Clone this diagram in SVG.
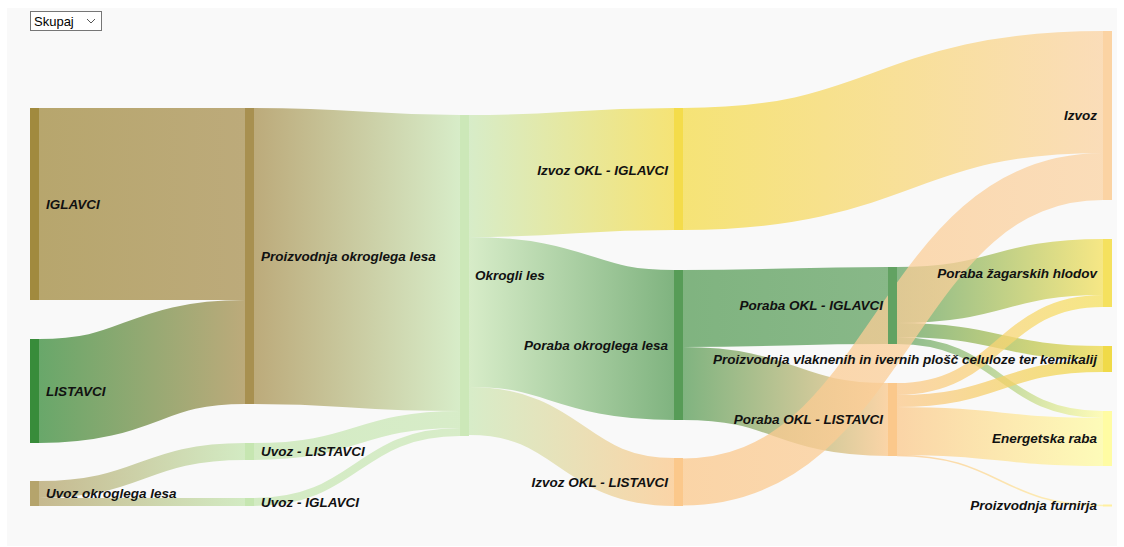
<svg xmlns="http://www.w3.org/2000/svg" width="1124" height="547" viewBox="0 0 1124 547">
<style>
.lnk{fill:none;stroke-opacity:0.75}
.lbl{font-family:"Liberation Sans",Arial,sans-serif;font-size:13.5px;font-weight:bold;font-style:italic;fill:#111}
.end{text-anchor:end}
</style>
<defs>
<linearGradient id="g1" gradientUnits="userSpaceOnUse" x1="39" y1="0" x2="245" y2="0"><stop offset="0" stop-color="#a18a3e"/><stop offset="1" stop-color="#a89050"/></linearGradient>
<linearGradient id="g2" gradientUnits="userSpaceOnUse" x1="39" y1="0" x2="245" y2="0"><stop offset="0" stop-color="#388c3a"/><stop offset="1" stop-color="#a89050"/></linearGradient>
<linearGradient id="g3" gradientUnits="userSpaceOnUse" x1="39" y1="0" x2="245" y2="0"><stop offset="0" stop-color="#b5a46c"/><stop offset="1" stop-color="#c6e6b1"/></linearGradient>
<linearGradient id="g5" gradientUnits="userSpaceOnUse" x1="254" y1="0" x2="460" y2="0"><stop offset="0" stop-color="#a89050"/><stop offset="1" stop-color="#cce8b8"/></linearGradient>
<linearGradient id="g6" gradientUnits="userSpaceOnUse" x1="254" y1="0" x2="460" y2="0"><stop offset="0" stop-color="#c6e6b1"/><stop offset="1" stop-color="#cce8b8"/></linearGradient>
<linearGradient id="g8" gradientUnits="userSpaceOnUse" x1="469" y1="0" x2="674" y2="0"><stop offset="0" stop-color="#cce8b8"/><stop offset="1" stop-color="#f4dc4a"/></linearGradient>
<linearGradient id="g9" gradientUnits="userSpaceOnUse" x1="469" y1="0" x2="674" y2="0"><stop offset="0" stop-color="#cce8b8"/><stop offset="1" stop-color="#579c57"/></linearGradient>
<linearGradient id="g10" gradientUnits="userSpaceOnUse" x1="469" y1="0" x2="674" y2="0"><stop offset="0" stop-color="#cce8b8"/><stop offset="1" stop-color="#fbc88b"/></linearGradient>
<linearGradient id="g11" gradientUnits="userSpaceOnUse" x1="683" y1="0" x2="1103" y2="0"><stop offset="0" stop-color="#f4dc4a"/><stop offset="1" stop-color="#fbd3a3"/></linearGradient>
<linearGradient id="g12" gradientUnits="userSpaceOnUse" x1="683" y1="0" x2="1103" y2="0"><stop offset="0" stop-color="#fbc88b"/><stop offset="1" stop-color="#fbd3a3"/></linearGradient>
<linearGradient id="g13" gradientUnits="userSpaceOnUse" x1="683" y1="0" x2="888" y2="0"><stop offset="0" stop-color="#579c57"/><stop offset="1" stop-color="#62a262"/></linearGradient>
<linearGradient id="g14" gradientUnits="userSpaceOnUse" x1="683" y1="0" x2="888" y2="0"><stop offset="0" stop-color="#579c57"/><stop offset="1" stop-color="#fbc88b"/></linearGradient>
<linearGradient id="g15" gradientUnits="userSpaceOnUse" x1="897" y1="0" x2="1103" y2="0"><stop offset="0" stop-color="#62a262"/><stop offset="1" stop-color="#f5e15e"/></linearGradient>
<linearGradient id="g16" gradientUnits="userSpaceOnUse" x1="897" y1="0" x2="1103" y2="0"><stop offset="0" stop-color="#62a262"/><stop offset="1" stop-color="#f0da48"/></linearGradient>
<linearGradient id="g17" gradientUnits="userSpaceOnUse" x1="897" y1="0" x2="1103" y2="0"><stop offset="0" stop-color="#62a262"/><stop offset="1" stop-color="#fffca3"/></linearGradient>
<linearGradient id="g18" gradientUnits="userSpaceOnUse" x1="897" y1="0" x2="1103" y2="0"><stop offset="0" stop-color="#fbc88b"/><stop offset="1" stop-color="#f5e15e"/></linearGradient>
<linearGradient id="g19" gradientUnits="userSpaceOnUse" x1="897" y1="0" x2="1103" y2="0"><stop offset="0" stop-color="#fbc88b"/><stop offset="1" stop-color="#f0da48"/></linearGradient>
<linearGradient id="g20" gradientUnits="userSpaceOnUse" x1="897" y1="0" x2="1103" y2="0"><stop offset="0" stop-color="#fbc88b"/><stop offset="1" stop-color="#fffca3"/></linearGradient>
<linearGradient id="g21" gradientUnits="userSpaceOnUse" x1="897" y1="0" x2="1103" y2="0"><stop offset="0" stop-color="#fbc88b"/><stop offset="1" stop-color="#fff0a0"/></linearGradient>
</defs>
<rect x="0" y="0" width="1124" height="547" fill="#ffffff"/>
<rect x="7" y="8" width="1110" height="538" fill="#f9f9f9"/>
<g id="select">
<rect x="30.5" y="11.5" width="71" height="19" fill="#ffffff" stroke="#767676"/>
<text x="34" y="26" font-family="Liberation Sans,Arial,sans-serif" font-size="13" fill="#000">Skupaj</text>
<polyline points="87,19 91,23 95,19" fill="none" stroke="#555" stroke-width="1"/>
</g>
<g id="links">
<path class="lnk" stroke="url(#g1)" stroke-width="192" d="M39,204 C142,204 142,204 245,204"/>
<path class="lnk" stroke="url(#g2)" stroke-width="104" d="M39,391 C142,391 142,352 245,352"/>
<path class="lnk" stroke="url(#g3)" stroke-width="17" d="M39,489.5 C142,489.5 142,451.5 245,451.5"/>
<path class="lnk" stroke="url(#g3)" stroke-width="8" d="M39,502 C142,502 142,502 245,502"/>
<path class="lnk" stroke="url(#g5)" stroke-width="296" d="M254,256 C357,256 357,263 460,263"/>
<path class="lnk" stroke="url(#g6)" stroke-width="17" d="M254,451.5 C357,451.5 357,419.5 460,419.5"/>
<path class="lnk" stroke="url(#g6)" stroke-width="8" d="M254,502 C357,502 357,432 460,432"/>
<path class="lnk" stroke="url(#g8)" stroke-width="122" d="M469,176 C571.5,176 571.5,169 674,169"/>
<path class="lnk" stroke="url(#g9)" stroke-width="150" d="M469,312 C571.5,312 571.5,345 674,345"/>
<path class="lnk" stroke="url(#g10)" stroke-width="48" d="M469,411 C571.5,411 571.5,482 674,482"/>
<path class="lnk" stroke="url(#g11)" stroke-width="122" d="M683,169 C893,169 893,92 1103,92"/>
<path class="lnk" stroke="url(#g13)" stroke-width="77" d="M683,308.5 C785.5,308.5 785.5,305.5 888,305.5"/>
<path class="lnk" stroke="url(#g14)" stroke-width="73" d="M683,383.5 C785.5,383.5 785.5,419.5 888,419.5"/>
<path class="lnk" stroke="url(#g15)" stroke-width="56" d="M897,295 C1000,295 1000,267 1103,267"/>
<path class="lnk" stroke="url(#g16)" stroke-width="14" d="M897,330 C1000,330 1000,353 1103,353"/>
<path class="lnk" stroke="url(#g17)" stroke-width="7" d="M897,340.5 C1000,340.5 1000,414.5 1103,414.5"/>
<path class="lnk" stroke="url(#g18)" stroke-width="12" d="M897,389 C1000,389 1000,301 1103,301"/>
<path class="lnk" stroke="url(#g19)" stroke-width="12" d="M897,401 C1000,401 1000,366 1103,366"/>
<path class="lnk" stroke="url(#g20)" stroke-width="48" d="M897,431 C1000,431 1000,442 1103,442"/>
<path class="lnk" stroke="url(#g21)" stroke-width="1.5" d="M897,455.5 C1000,455.5 1000,505.5 1103,505.5"/>
<path class="lnk" stroke="url(#g12)" stroke-width="47" d="M683,482 C893,482 893,176.5 1103,176.5"/>
</g>
<g id="n-iglavci"><rect x="30" y="108" width="9" height="192" fill="#a18a3e"/><text class="lbl" x="46" y="208.5">IGLAVCI</text></g>
<g id="n-listavci"><rect x="30" y="339" width="9" height="104" fill="#388c3a"/><text class="lbl" x="46" y="395.5">LISTAVCI</text></g>
<g id="n-uvoz-okl"><rect x="30" y="481" width="9" height="25" fill="#b5a46c"/><text class="lbl" x="46" y="498">Uvoz okroglega lesa</text></g>
<g id="n-proizvodnja"><rect x="245" y="108" width="9" height="296" fill="#a89050"/><text class="lbl" x="261" y="261">Proizvodnja okroglega lesa</text></g>
<g id="n-uvoz-lis"><rect x="245" y="443" width="9" height="17" fill="#c6e6b1"/><text class="lbl" x="261" y="456">Uvoz - LISTAVCI</text></g>
<g id="n-uvoz-igl"><rect x="245" y="498" width="9" height="8" fill="#c6e6b1"/><text class="lbl" x="261" y="506.5">Uvoz - IGLAVCI</text></g>
<g id="n-okrogli"><rect x="460" y="115" width="9" height="321" fill="#cce8b8"/><text class="lbl" x="475" y="279.5">Okrogli les</text></g>
<g id="n-izvoz-igl"><rect x="674" y="108" width="9" height="122" fill="#f4dc4a"/><text class="lbl end" x="668" y="174.5">Izvoz OKL - IGLAVCI</text></g>
<g id="n-poraba"><rect x="674" y="270" width="9" height="150" fill="#579c57"/><text class="lbl end" x="668" y="350">Poraba okroglega lesa</text></g>
<g id="n-izvoz-lis"><rect x="674" y="458" width="9" height="48" fill="#fbc88b"/><text class="lbl end" x="668" y="487">Izvoz OKL - LISTAVCI</text></g>
<g id="n-poraba-igl"><rect x="888" y="267" width="9" height="77" fill="#62a262"/><text class="lbl end" x="883" y="310">Poraba OKL - IGLAVCI</text></g>
<g id="n-poraba-lis"><rect x="888" y="383" width="9" height="73" fill="#fbc88b"/><text class="lbl end" x="883" y="424">Poraba OKL - LISTAVCI</text></g>
<g id="n-izvoz"><rect x="1103" y="31" width="9" height="169" fill="#fbd3a3"/><text class="lbl end" x="1097" y="120">Izvoz</text></g>
<g id="n-zag"><rect x="1103" y="239" width="9" height="68" fill="#f5e15e"/><text class="lbl end" x="1097" y="277.5">Poraba žagarskih hlodov</text></g>
<g id="n-vlak"><rect x="1103" y="346" width="9" height="26" fill="#f0da48"/><text class="lbl end" x="1097" y="363.5">Proizvodnja vlaknenih in ivernih plošč celuloze ter kemikalij</text></g>
<g id="n-ener"><rect x="1103" y="411" width="9" height="55" fill="#fffca3"/><text class="lbl end" x="1097" y="443">Energetska raba</text></g>
<g id="n-furn"><rect x="1103" y="504.5" width="9" height="2" fill="#fff0a0"/><text class="lbl end" x="1097" y="510">Proizvodnja furnirja</text></g>
</svg>
